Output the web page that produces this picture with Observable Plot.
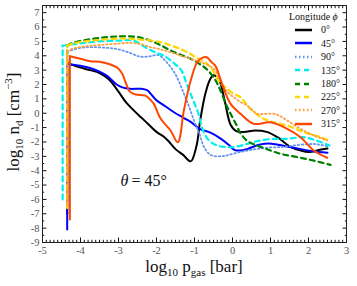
<!DOCTYPE html>
<html><head><meta charset="utf-8">
<script src="https://cdn.jsdelivr.net/npm/d3@7"></script>
<script src="https://cdn.jsdelivr.net/npm/@observablehq/plot@0.6"></script>
<style>
body{margin:0;background:#fff;}
#wrap{position:relative;width:357px;height:286px;font-family:"Liberation Serif",serif;color:#111;}
#wrap svg{position:absolute;left:0;top:0;}
.xl{position:absolute;left:194px;top:268px;transform:translate(-50%,-50%);font-size:17px;line-height:1;white-space:nowrap;}
.yl{position:absolute;left:14px;top:122px;transform:translate(-50%,-50%) rotate(-90deg);font-size:17px;line-height:1;white-space:nowrap;}
.xl sub,.yl sub{font-size:11px;vertical-align:-4px;line-height:1;}
.yl sup{font-size:11px;vertical-align:7px;line-height:1;}
#leg{position:absolute;left:289px;top:10px;font-size:10px;line-height:13.4px;}
#leg .r{display:flex;align-items:center;height:13.4px;}
#leg svg{position:static;margin-left:6px;margin-right:9px;}
</style></head><body><div id="wrap"></div>
<script>
const longitudes = ["0°","45°","90°","135°","180°","225°","270°","315°"];
const colors = ["#000000","#0000ff","#6495ed","#00eeee","#008000","#ffd700","#ffa040","#ff4500"];
const dashes = [null,null,"1.5,2.5","5,4","5,4","5,4","1.5,2.5",null];
const widths = [2,2,1.8,2.2,2.2,2.2,1.8,2];

const p0 = [-4.35,-4.35,-4.2,-4.0,-3.75,-3.5,-3.25,-3.0,-2.8,-2.6,-2.4,-2.2,-2.0,-1.8,-1.7,-1.5,-1.3,-1.1,-0.95,-0.85,-0.72,-0.6,-0.5,-0.35,-0.2,-0.05,0.1,0.3,0.6,0.9,1.2,1.5,1.8,2.0,2.3,2.5];
const n0 = [-7.0,3.5,3.35,3.18,3.0,2.8,2.35,1.5,0.75,0.2,-0.3,-0.8,-1.3,-1.65,-1.9,-2.5,-2.9,-3.35,-2.3,-0.5,1.3,2.3,2.65,2.3,0.8,-0.8,-1.25,-1.3,-1.2,-1.3,-1.7,-2.3,-2.6,-2.7,-2.55,-2.45];

const p45 = [-4.35,-4.35,-4.0,-3.75,-3.5,-3.3,-3.05,-2.9,-2.7,-2.4,-2.25,-2.15,-2.0,-1.75,-1.54,-1.3,-1.1,-0.85,-0.58,-0.32,-0.1,0.05,0.2,0.4,0.7,0.95,1.2,1.5,1.8,2.1,2.5];
const n45 = [-8.1,3.45,3.3,3.15,2.9,2.6,2.0,1.8,1.7,1.7,1.6,1.35,0.9,0.45,0.07,-0.3,-0.6,-1.1,-1.35,-1.75,-2.2,-2.55,-2.6,-2.48,-2.2,-2.1,-2.2,-2.35,-2.5,-2.65,-2.75];

const p90 = [-4.35,-4.35,-4.0,-3.7,-3.3,-3.0,-2.7,-2.45,-2.2,-1.95,-1.75,-1.5,-1.3,-1.15,-1.0,-0.85,-0.75,-0.58,-0.3,-0.1,0.2,0.5,0.9,1.3,1.6,2.0,2.2,2.5];
const n90 = [-6.5,4.3,4.55,4.6,4.55,4.45,4.2,3.95,3.95,4.05,3.6,2.7,1.5,0.5,-0.6,-1.6,-2.35,-2.9,-3.0,-2.9,-2.7,-2.55,-2.4,-2.35,-2.25,-2.15,-2.15,-2.3];

const p135 = [-4.47,-4.47,-4.2,-3.9,-3.5,-3.0,-2.6,-2.3,-2.0,-1.8,-1.55,-1.35,-1.2,-1.05,-0.9,-0.8,-0.65,-0.45,-0.2,0.05,0.3,0.56,1.0,1.44,1.88,2.2,2.55];
const n135 = [-6.0,4.7,4.8,4.9,5.0,5.05,5.05,4.6,4.2,4.0,3.5,3.0,2.0,1.0,0.0,-1.0,-1.8,-2.2,-2.35,-2.35,-2.2,-2.0,-1.8,-1.78,-1.67,-1.9,-2.25];

const p180 = [-4.35,-4.35,-4.2,-3.75,-3.3,-2.95,-2.68,-2.4,-2.16,-1.9,-1.63,-1.35,-1.1,-0.85,-0.67,-0.45,-0.32,-0.15,-0.05,0.1,0.21,0.4,0.6,1.0,1.3,1.7,2.14,2.58];
const n180 = [-6.0,4.7,4.9,5.15,5.3,5.35,5.35,5.25,5.05,4.75,4.37,4.05,3.79,3.4,3.05,2.3,1.6,0.5,-0.04,-0.8,-1.4,-1.95,-2.2,-2.6,-2.85,-3.05,-3.3,-3.6];

const p225 = [-4.35,-4.35,-4.2,-3.9,-3.5,-3.0,-2.68,-2.3,-1.89,-1.6,-1.28,-1.0,-0.67,-0.45,-0.32,-0.14,0.03,0.21,0.47,0.82,1.09,1.44,1.88,2.32,2.58];
const n225 = [-6.6,4.7,4.85,5.0,5.1,5.2,5.18,5.1,4.95,4.7,4.37,3.95,3.44,2.7,2.1,1.7,1.35,1.12,0.3,-0.39,-0.63,-0.86,-1.32,-1.67,-1.95];

const p270 = [-4.35,-4.35,-4.2,-3.9,-3.5,-3.0,-2.68,-2.4,-2.16,-1.9,-1.63,-1.35,-1.1,-0.84,-0.49,-0.32,-0.14,0.03,0.2,0.39,0.65,0.85,1.09,1.25,1.44,1.79,2.14,2.49];
const n270 = [-6.4,4.3,4.5,4.65,4.75,4.85,4.9,4.8,4.6,4.45,4.25,4.0,3.79,3.55,3.09,2.3,1.5,1.12,0.8,0.54,-0.04,-0.05,-0.04,-0.2,-0.51,-1.09,-1.55,-1.9];

const p315 = [-4.28,-4.28,-4.0,-3.74,-3.5,-3.21,-3.0,-2.9,-2.82,-2.7,-2.55,-2.29,-2.15,-2.07,-1.89,-1.63,-1.44,-1.28,-1.1,-0.93,-0.8,-0.68,-0.55,-0.45,-0.32,-0.2,-0.05,0.21,0.56,1.0,1.44,1.79,2.14,2.49];
const n315 = [-7.4,3.97,3.79,3.62,3.58,3.39,3.1,2.74,2.2,1.5,1.3,1.23,0.9,0.65,-0.39,-1.2,-2.02,0.19,2.28,3.55,3.85,3.9,3.55,3.3,2.4,1.5,0.65,-0.04,-0.74,-0.63,-1.09,-1.67,-2.6,-3.1];

const xTicks = [-5,-4,-3,-2,-1,0,1,2,3];
const yTicks = [-9,-8,-7,-6,-5,-4,-3,-2,-1,0,1,2,3,4,5,6,7];
const annotation = {p: -2.74, n: -4.69};

const pressures = [p0,p45,p90,p135,p180,p225,p270,p315];
const densities = [n0,n45,n90,n135,n180,n225,n270,n315];
const series = pressures.map((ps,i)=>ps.map((p,j)=>({p, n: densities[i][j], lon: longitudes[i]})));

const xMinor = d3.range(-50,31).map(d=>d/10).filter(d=>!xTicks.includes(d));
const yMinor = d3.range(-18,16).map(d=>d/2).filter(d=>!yTicks.includes(d));

const marks = [];
series.forEach((s,i)=>{
  const style = {x:"p",y:"n",stroke:colors[i],strokeWidth:widths[i],strokeDasharray:dashes[i]||undefined,strokeLinejoin:"round"};
  // vertical jump at the lowest pressure (sharp corner), then the smooth profile
  marks.push(Plot.line(s.slice(0,2),{...style,curve:"linear"}));
  marks.push(Plot.line(s.slice(1),{...style,curve:"catmull-rom"}));
});
for (const a of ["bottom","top"]) {
  marks.push(Plot.axisX(xTicks,{anchor:a,tickSize:-4.5,fill:"none",label:null}));
  marks.push(Plot.axisX(xMinor,{anchor:a,tickSize:-2.2,fill:"none",label:null}));
}
for (const a of ["left","right"]) {
  marks.push(Plot.axisY(yTicks,{anchor:a,tickSize:-4.5,fill:"none",label:null}));
  marks.push(Plot.axisY(yMinor,{anchor:a,tickSize:-2.2,fill:"none",label:null}));
}
marks.push(Plot.axisX(xTicks,{anchor:"bottom",tickSize:0,tickPadding:4,tickFormat:d=>String(d),label:null,fontSize:10.5,fill:"#555"}));
marks.push(Plot.axisY(yTicks,{anchor:"left",tickSize:0,tickPadding:3,tickFormat:d=>String(d),label:null,fontSize:10.5,fill:"#555"}));
marks.push(Plot.text([annotation],{x:"p",y:"n",text:()=>"θ",textAnchor:"end",fontStyle:"italic",fontSize:16,fill:"#111"}));
marks.push(Plot.text([annotation],{x:"p",y:"n",text:()=>"= 45°",textAnchor:"start",dx:3,fontSize:16,fill:"#111"}));
marks.push(Plot.frame({stroke:"#222",strokeWidth:1}));

const chart = Plot.plot({
  width:357, height:286,
  marginLeft:42, marginRight:11, marginTop:5, marginBottom:44,
  style:{fontFamily:"'Liberation Serif', serif", background:"transparent"},
  x:{domain:[-5,3]},
  y:{domain:[-9,7.5]},
  marks
});
const wrap = document.getElementById("wrap");
wrap.appendChild(chart);

const xl = document.createElement("div"); xl.className="xl";
xl.innerHTML = "log<sub>10</sub> p<sub>gas</sub> [bar]"; wrap.appendChild(xl);
const yl = document.createElement("div"); yl.className="yl";
yl.innerHTML = "log<sub>10</sub> n<sub>d</sub> [cm<sup>−3</sup>]"; wrap.appendChild(yl);

const leg = document.createElement("div"); leg.id="leg";
let html = '<div>Longitude <i>ϕ</i></div>';
longitudes.forEach((l,i)=>{
  html += `<div class="r"><svg width="17" height="6"><line x1="0" y1="3" x2="17" y2="3" stroke="${colors[i]}" stroke-width="${widths[i]+0.5}" ${dashes[i]?`stroke-dasharray="${dashes[i]}"`:""}/></svg><span>${l}</span></div>`;
});
leg.innerHTML = html; wrap.appendChild(leg);
</script></body></html>
